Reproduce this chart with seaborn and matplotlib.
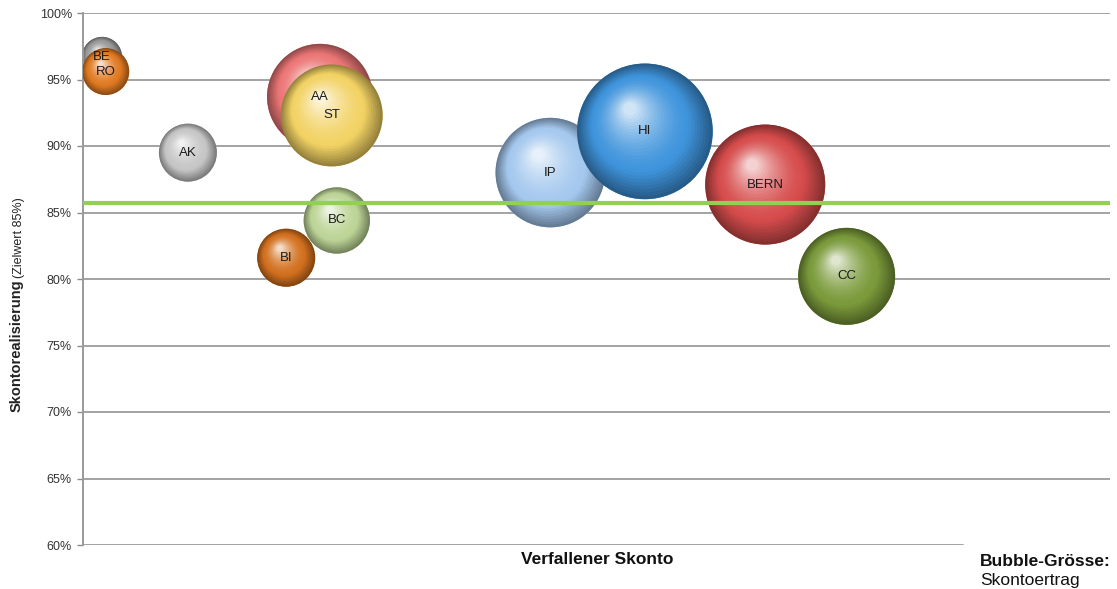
import numpy as np
import pandas as pd
import matplotlib
matplotlib.use("Agg")
import matplotlib.pyplot as plt
import seaborn as sns
from matplotlib.transforms import offset_copy
from matplotlib.colors import to_rgb
from matplotlib.ticker import FuncFormatter

# --- data ---
labels = ["BE", "RO", "AK", "AA", "ST", "BC", "BI", "IP", "HI", "BERN", "CC"]
verfallener_skonto = [2.6, 3.1, 14.3, 32.3, 33.9, 34.6, 27.7, 63.7, 76.6, 93.0, 104.1]
skontorealisierung = [96.7, 95.6, 89.5, 93.7, 92.3, 84.4, 81.6, 88.0, 91.1, 87.1, 80.2]
skontoertrag = [4.0, 5.5, 8.4, 28.0, 26.0, 11.0, 8.4, 30.0, 46.0, 36.0, 23.5]
bubble_colors = ["#9a9a9a", "#e07a22", "#c6c6c6", "#ec7676", "#f2d264", "#bcd496",
                 "#d2701e", "#a4c8ee", "#3f94dc", "#d64c4c", "#7a9a3a"]
zielwert = 85.7
y_ticks = [60, 65, 70, 75, 80, 85, 90, 95, 100]

df = pd.DataFrame({"label": labels, "x": verfallener_skonto,
                   "y": skontorealisierung, "ertrag": skontoertrag})

W, H, DPI = 1117, 589, 100
# bubble area (pt^2) proportional to Skontoertrag
K = 207.36

sns.set_theme(style="white")
plt.rcParams["font.family"] = ["Liberation Sans", "DejaVu Sans"]

fig = plt.figure(figsize=(W / DPI, H / DPI), dpi=DPI)
ax = fig.add_axes([83 / W, 1 - 545 / H, (1110 - 83) / W, (545 - 13) / H])

vmin, vmax = min(skontoertrag), max(skontoertrag)
sns.scatterplot(data=df, x="x", y="y", hue="label", size="ertrag",
                palette=dict(zip(labels, bubble_colors)),
                sizes=(K * vmin, K * vmax), size_norm=(vmin, vmax),
                edgecolor="none", legend=False, ax=ax, zorder=1)


def shade(base, t):
    base = np.array(to_rgb(base))
    dark = base * 0.62
    light = base + (1 - base) * 0.75
    if t < 0.3:
        return dark + (base - dark) * (t / 0.3)
    return base + (light - base) * ((t - 0.3) / 0.7) ** 1.6


# sphere look: stacked shrinking discs, shifted towards a highlight
N = 26
for i, row in df.iterrows():
    s = K * row["ertrag"]
    r_pt = np.sqrt(s) / 2
    for k in range(N):
        t = k / (N - 1)
        f = 1 - 0.9 * t
        tr = offset_copy(ax.transData, fig=fig, x=-0.22 * r_pt * t,
                         y=0.33 * r_pt * t, units="points")
        ax.scatter([row["x"]], [row["y"]], s=s * f * f, color=[shade(bubble_colors[i], t)],
                   edgecolors="none", transform=tr, zorder=2 + i)
    ax.text(row["x"], row["y"], row["label"], ha="center", va="center",
            fontsize=9.5, color="#1a1a1a", zorder=40)

# grid lines (bottom one is shorter in the reference)
for yt in y_ticks:
    xmax = (963 - 83) / (1110 - 83) if yt == 60 else 1
    ax.axhline(yt, xmin=0, xmax=xmax, color="#a3a3a3", lw=1.4, zorder=0)

ax.axhline(zielwert, color="#92d050", lw=3, zorder=30)

ax.set_xlim(0, 140)
ax.set_ylim(60, 100)
ax.set_yticks(y_ticks)
ax.yaxis.set_major_formatter(FuncFormatter(lambda v, p: f"{v:.0f}%"))
ax.set_xticks([])
ax.tick_params(axis="y", left=True, length=4, width=1, color="#8c8c8c",
               labelsize=9, labelcolor="#333333", pad=4)
ax.set_xlabel("")
ax.set_ylabel("")
for side in ["top", "right", "bottom"]:
    ax.spines[side].set_visible(False)
ax.spines["left"].set_color("#9a9a9a")
ax.spines["left"].set_linewidth(1.4)

# axis titles and bubble size note
fig.text(17 / W, 1 - 412 / H, "Skontorealisierung", rotation=90, ha="center",
         va="bottom", fontsize=10.5, fontweight="bold", color="#222222")
fig.text(19 / W, 1 - 278 / H, "(Zielwert 85%)", rotation=90, ha="center",
         va="bottom", fontsize=9, color="#222222")
fig.text(597 / W, 1 - 560 / H, "Verfallener Skonto", ha="center", va="center",
         fontsize=12.5, fontweight="bold", color="#111111")
fig.text(980 / W, 1 - 562 / H, "Bubble-Grösse:", ha="left", va="center",
         fontsize=12.5, fontweight="bold", color="#111111")
fig.text(980 / W, 1 - 580 / H, "Skontoertrag", ha="left", va="center",
         fontsize=12.5, color="#111111")

fig.savefig("out.png", dpi=DPI)
